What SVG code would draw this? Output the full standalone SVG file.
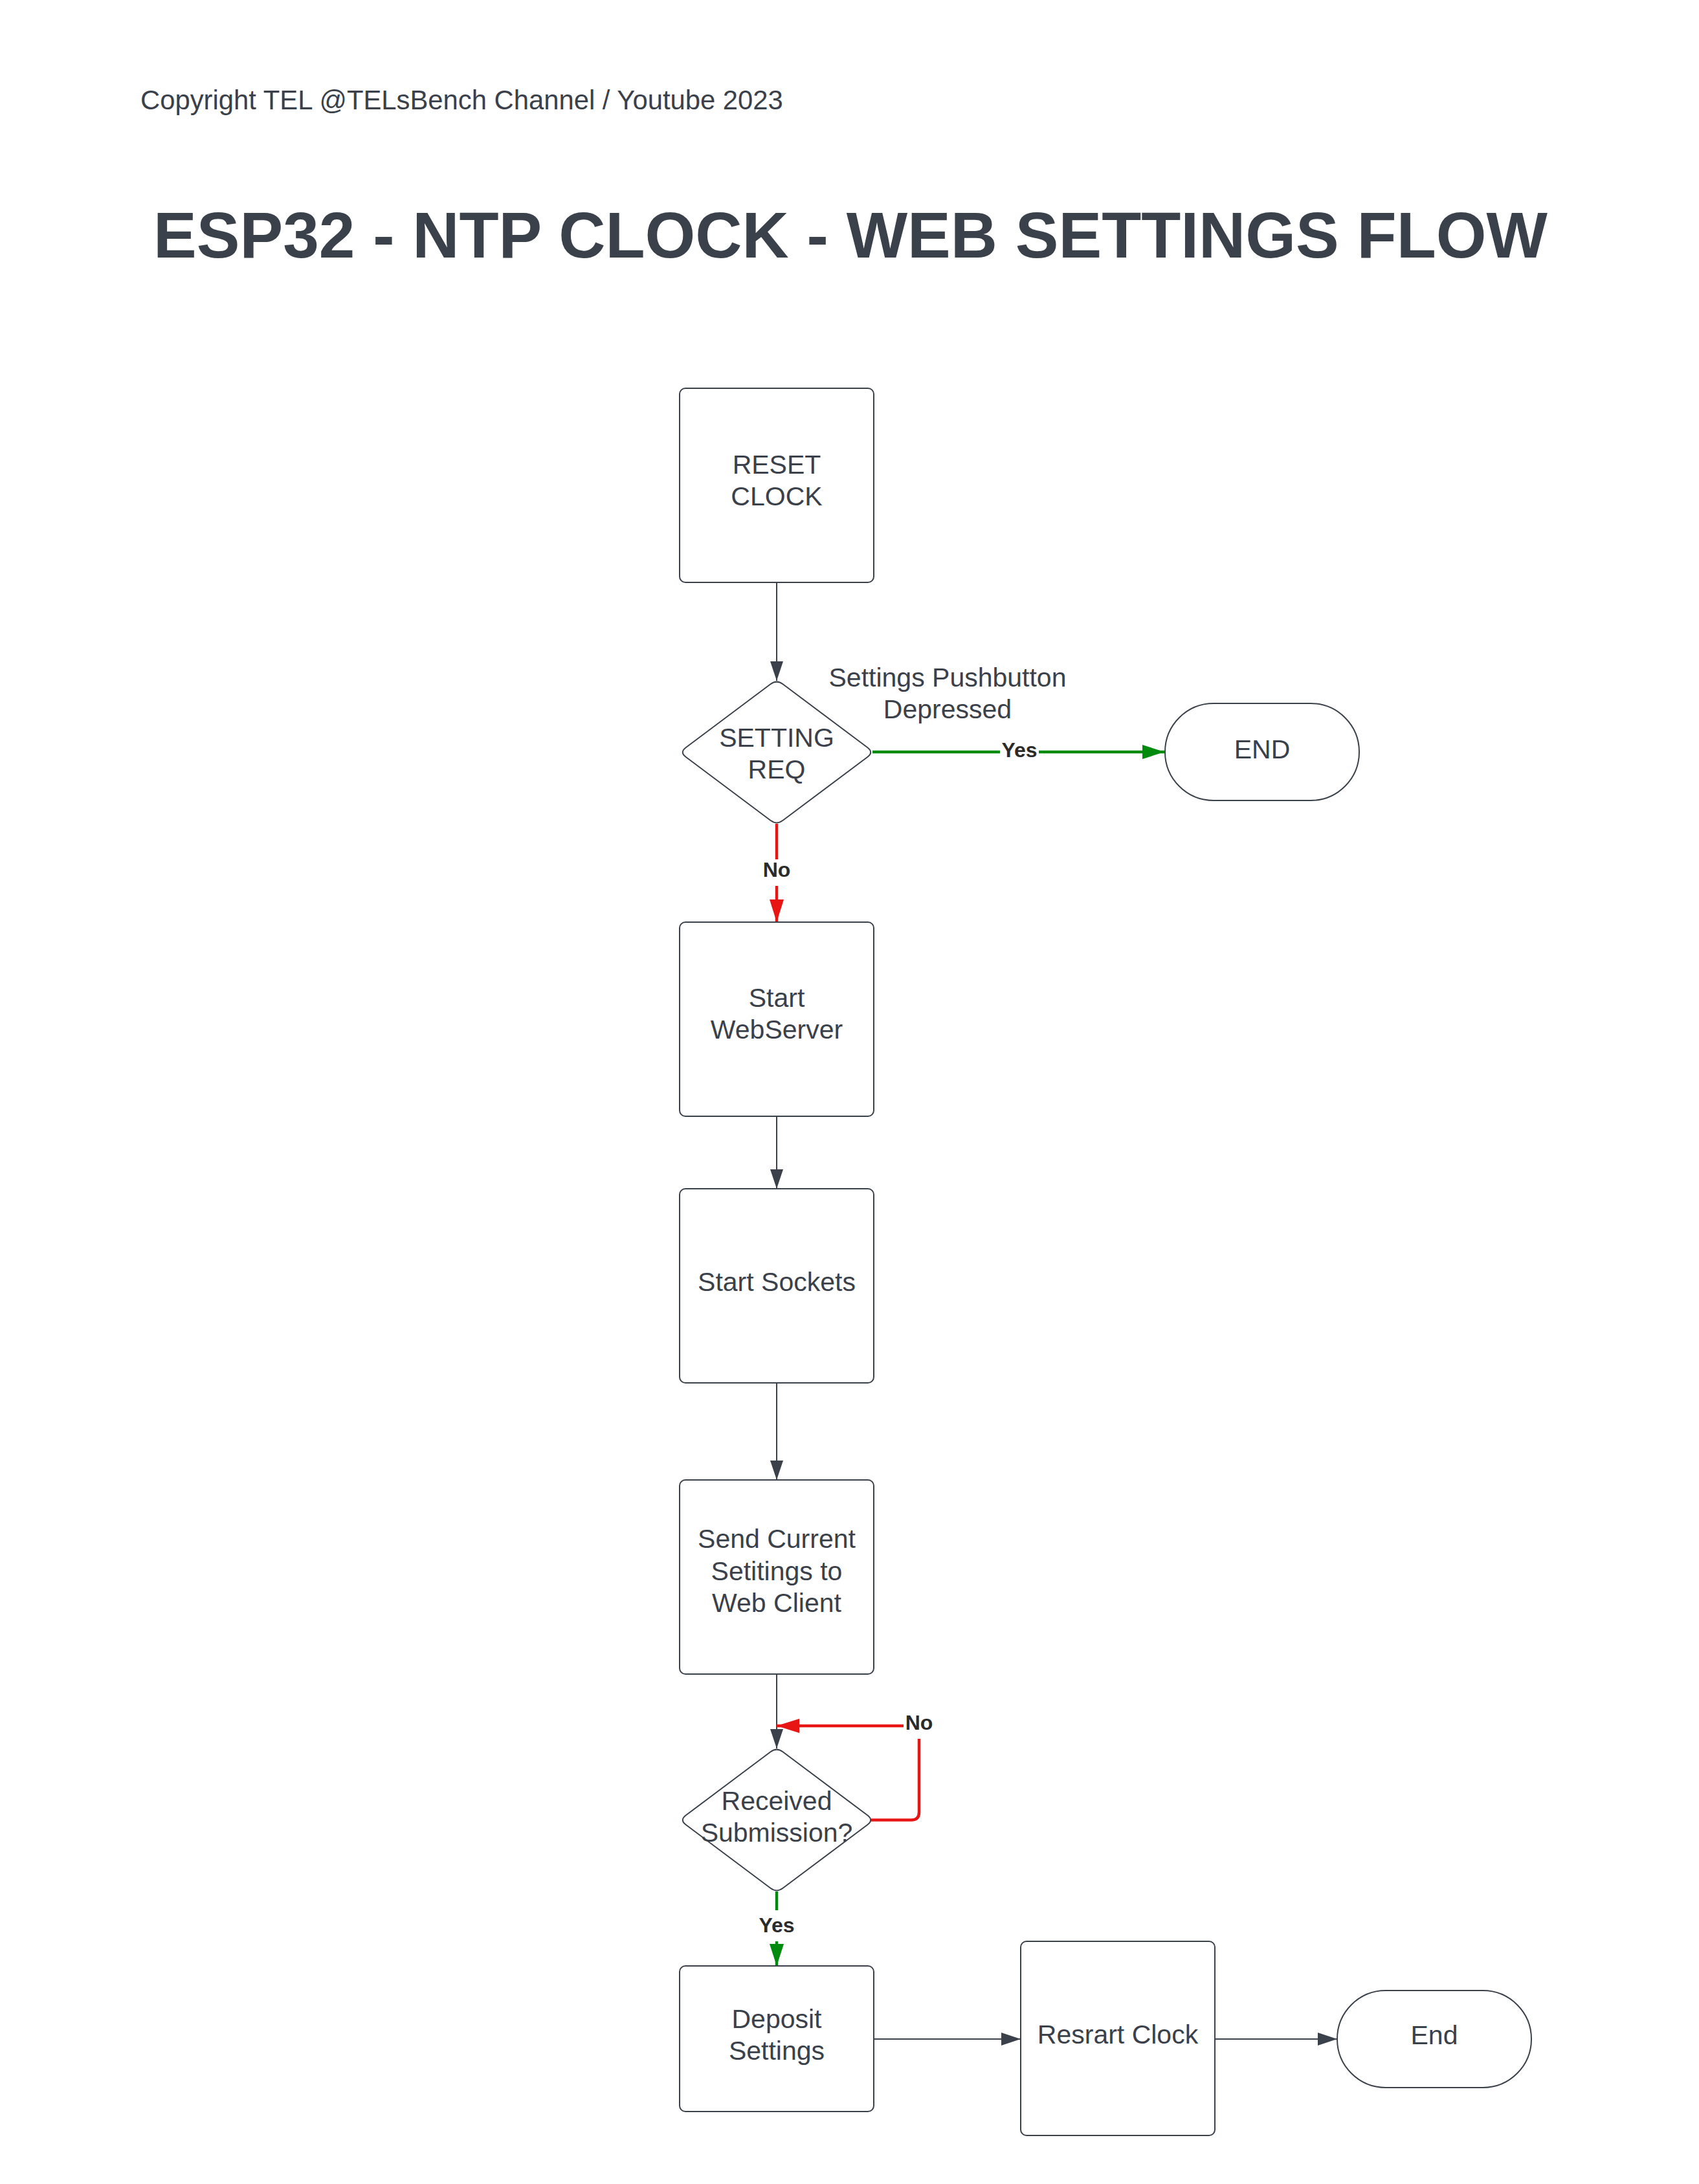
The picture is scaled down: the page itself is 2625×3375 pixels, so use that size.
<svg xmlns="http://www.w3.org/2000/svg" width="2625" height="3375" viewBox="0 0 2625 3375">
<defs>
<style>
.bg{fill:#ffffff}
.node{fill:#ffffff;stroke:#3a414a;stroke-width:2}
.t{font-family:"Liberation Sans",Arial,sans-serif;font-size:41px;fill:#3a414a;text-anchor:middle}
.lbl{font-family:"Liberation Sans",Arial,sans-serif;font-size:32px;font-weight:bold;fill:#2b2b2b;text-anchor:middle}
.lblbg{fill:#ffffff}
.c{fill:none;stroke:#3a414a;stroke-width:2}
.cg{fill:none;stroke:#008a0e;stroke-width:4.5}
.cr{fill:none;stroke:#e81515;stroke-width:4.5}
</style>
<marker id="ad" markerUnits="userSpaceOnUse" markerWidth="32" markerHeight="22" refX="30" refY="10" orient="auto" viewBox="0 0 32 22"><path d="M0,0 L30,10 L0,20 Z" fill="#3a414a"/></marker>
<marker id="ag" markerUnits="userSpaceOnUse" markerWidth="36" markerHeight="24" refX="34" refY="11" orient="auto" viewBox="0 0 36 24"><path d="M0,0 L34,11 L0,22 Z" fill="#008a0e"/></marker>
<marker id="ar" markerUnits="userSpaceOnUse" markerWidth="36" markerHeight="24" refX="35" refY="11" orient="auto" viewBox="0 0 36 24"><path d="M0,0 L35,11 L0,22 Z" fill="#e81515"/></marker>
</defs>
<rect class="bg" x="0" y="0" width="2625" height="3375"/>
<g id="header">
<text x="217" y="169" font-family="Liberation Sans, Arial, sans-serif" font-size="41.8" fill="#3a414a">Copyright TEL @TELsBench Channel / Youtube 2023</text>
<text x="1314" y="398" font-family="Liberation Sans, Arial, sans-serif" font-size="100" font-weight="bold" fill="#3a414a" text-anchor="middle">ESP32 - NTP CLOCK - WEB SETTINGS FLOW</text>
</g>
<g id="connectors">
<line class="c" x1="1200" y1="900" x2="1200" y2="1052" marker-end="url(#ad)"/>
<line class="cg" x1="1348" y1="1162" x2="1799" y2="1162" marker-end="url(#ag)"/>
<rect class="lblbg" x="1545" y="1140" width="60" height="40"/>
<text class="lbl" x="1575" y="1170">Yes</text>
<line class="cr" x1="1200" y1="1273" x2="1200" y2="1425" marker-end="url(#ar)"/>
<rect class="lblbg" x="1175" y="1328" width="50" height="41"/>
<text class="lbl" x="1200" y="1355">No</text>
<line class="c" x1="1200" y1="1725" x2="1200" y2="1837" marker-end="url(#ad)"/>
<line class="c" x1="1200" y1="2137" x2="1200" y2="2287" marker-end="url(#ad)"/>
<line class="c" x1="1200" y1="2587" x2="1200" y2="2702" marker-end="url(#ad)"/>
<path class="cr" d="M1346,2812.5 L1408,2812.5 Q1420,2812.5 1420,2800.5 L1420,2667 L1200,2667" marker-end="url(#ar)"/>
<rect class="lblbg" x="1396" y="2645" width="48" height="42"/>
<text class="lbl" x="1420" y="2673">No</text>
<line class="cg" x1="1200" y1="2923" x2="1200" y2="3038" marker-end="url(#ag)"/>
<rect class="lblbg" x="1168" y="2952" width="64" height="48"/>
<text class="lbl" x="1200" y="2986">Yes</text>
<line class="c" x1="1350" y1="3151" x2="1577" y2="3151" marker-end="url(#ad)"/>
<line class="c" x1="1877" y1="3151" x2="2066" y2="3151" marker-end="url(#ad)"/>
</g>
<g id="note-pushbutton">
<text class="t" x="1464" y="1061">Settings Pushbutton</text>
<text class="t" x="1464" y="1110">Depressed</text>
</g>
<g id="reset-clock">
<rect class="node" x="1050" y="600" width="300" height="300" rx="9"/>
<text class="t" x="1200" y="732">RESET</text>
<text class="t" x="1200" y="781">CLOCK</text>
</g>
<g id="setting-req">
<path class="node" d="M1190.4,1057.2 Q1200,1050 1209.6,1057.2 L1340.4,1155.3 Q1350,1162.5 1340.4,1169.7 L1209.6,1267.8 Q1200,1275 1190.4,1267.8 L1059.6,1169.7 Q1050,1162.5 1059.6,1155.3 Z"/>
<text class="t" x="1200" y="1154">SETTING</text>
<text class="t" x="1200" y="1203">REQ</text>
</g>
<g id="end-top">
<rect class="node" x="1800" y="1087" width="300" height="150" rx="75" ry="75"/>
<text class="t" x="1950" y="1172">END</text>
</g>
<g id="start-webserver">
<rect class="node" x="1050" y="1425" width="300" height="300" rx="9"/>
<text class="t" x="1200" y="1556">Start</text>
<text class="t" x="1200" y="1605">WebServer</text>
</g>
<g id="start-sockets">
<rect class="node" x="1050" y="1837" width="300" height="300" rx="9"/>
<text class="t" x="1200" y="1995">Start Sockets</text>
</g>
<g id="send-current">
<rect class="node" x="1050" y="2287" width="300" height="300" rx="9"/>
<text class="t" x="1200" y="2392">Send Current</text>
<text class="t" x="1200" y="2442">Setitings to</text>
<text class="t" x="1200" y="2491">Web Client</text>
</g>
<g id="received-submission">
<path class="node" d="M1190.4,2707.2 Q1200,2700 1209.6,2707.2 L1340.4,2805.3 Q1350,2812.5 1340.4,2819.7 L1209.6,2917.8 Q1200,2925 1190.4,2917.8 L1059.6,2819.7 Q1050,2812.5 1059.6,2805.3 Z"/>
<text class="t" x="1200" y="2797">Received</text>
<text class="t" x="1200" y="2846">Submission?</text>
</g>
<g id="deposit-settings">
<rect class="node" x="1050" y="3038" width="300" height="225" rx="9"/>
<text class="t" x="1200" y="3134">Deposit</text>
<text class="t" x="1200" y="3183">Settings</text>
</g>
<g id="restart-clock">
<rect class="node" x="1577" y="3000" width="300" height="300" rx="9"/>
<text class="t" x="1727" y="3158">Resrart Clock</text>
</g>
<g id="end-bottom">
<rect class="node" x="2066" y="3076" width="300" height="150" rx="75" ry="75"/>
<text class="t" x="2216" y="3159">End</text>
</g>
</svg>
